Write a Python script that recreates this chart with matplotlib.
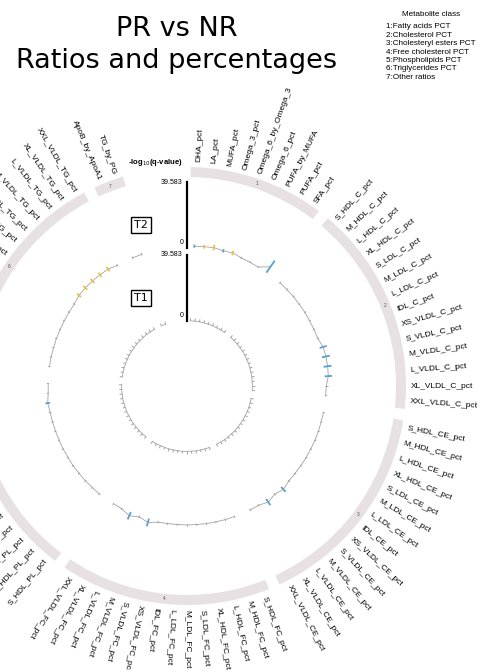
"""Circular -log10(q) plot: PR vs NR, ratios and percentages."""

import matplotlib

matplotlib.use("Agg")
import matplotlib.pyplot as plt
import numpy as np

plt.rcParams["font.family"] = ["Liberation Sans", "DejaVu Sans"]

# ---- data -----------------------------------------------------------------
class_names = [
    "Fatty acids PCT",
    "Cholesterol PCT",
    "Cholesteryl esters PCT",
    "Free cholesterol PCT",
    "Phospholipids PCT",
    "Triglycerides PCT",
    "Other ratios",
]
fatty_acids = ["DHA_pct", "LA_pct", "MUFA_pct", "Omega_3_pct", "Omega_6_by_Omega_3",
               "Omega_6_pct", "PUFA_by_MUFA", "PUFA_pct", "SFA_pct"]
subclasses = ["S_HDL", "M_HDL", "L_HDL", "XL_HDL", "S_LDL", "M_LDL", "L_LDL", "IDL",
              "XS_VLDL", "S_VLDL", "M_VLDL", "L_VLDL", "XL_VLDL", "XXL_VLDL"]
lipids = ["C", "CE", "FC", "PL", "TG"]
other_ratios = ["ApoB_by_ApoA1", "TG_by_PG"]

group_items = [fatty_acids] + [[f"{s}_{lp}_pct" for s in subclasses] for lp in lipids] + [other_ratios]

Q_MAX = 39.583

# outer track (T2): -log10(q), interval half-width, direction (1 up, -1 down, 0 n.s.)
t2_val = [
    [1.2, 1.4, 1.8, 1.2, 1.6, 0.7, 0.5, 0.4, 4.6],
    [0.6, 0.5, 0.6, 0.5, 0.6, 0.5, 0.6, 0.7, 2.2, 2.4, 2.4, 2.2, 0.8, 0.6],
    [0.6, 0.5, 0.6, 0.6, 0.5, 0.6, 0.5, 0.6, 0.7, 2.0, 0.8, 2.2, 0.7, 0.6],
    [0.5, 0.6, 0.5, 0.6, 0.5, 0.6, 0.5, 0.6, 0.7, 2.4, 0.8, 2.4, 0.6, 0.5],
    [0.6, 0.5, 0.6, 0.5, 0.6, 0.5, 0.6, 0.5, 0.6, 0.7, 0.8, 1.4, 0.6, 0.5],
    [0.5, 0.6, 0.5, 0.6, 0.5, 0.6, 0.7, 0.8, 1.8, 2.0, 2.0, 1.9, 1.8, 0.8],
    [0.7, 0.8],
]
t2_err = [
    [0.9, 1.1, 1.7, 1.0, 1.4, 0.7, 0.7, 0.7, 4.4],
    [0.8, 0.8, 0.8, 0.8, 0.8, 0.8, 0.8, 0.8, 2.2, 2.4, 2.4, 2.2, 0.8, 0.8],
    [0.8, 0.8, 0.8, 0.8, 0.8, 0.8, 0.8, 0.8, 0.8, 2.0, 0.8, 2.2, 0.8, 0.8],
    [0.8, 0.8, 0.8, 0.8, 0.8, 0.8, 0.8, 0.8, 0.8, 2.4, 0.8, 2.4, 0.8, 0.8],
    [0.8, 0.8, 0.8, 0.8, 0.8, 0.8, 0.8, 0.8, 0.8, 0.8, 0.8, 1.4, 0.8, 0.8],
    [0.8, 0.8, 0.8, 0.8, 0.8, 0.8, 0.8, 0.8, 1.6, 1.7, 1.7, 1.6, 1.6, 0.8],
    [0.9, 0.9],
]
t2_dir = [
    [-1, 1, 1, -1, 1, 0, 0, 0, -1],
    [0, 0, 0, 0, 0, 0, 0, 0, -1, -1, -1, -1, 0, 0],
    [0, 0, 0, 0, 0, 0, 0, 0, 0, -1, 0, -1, 0, 0],
    [0, 0, 0, 0, 0, 0, 0, 0, 0, -1, 0, -1, 0, 0],
    [0, 0, 0, 0, 0, 0, 0, 0, 0, 0, 0, -1, 0, 0],
    [0, 0, 0, 0, 0, 0, 0, 0, 1, 1, 1, 1, 1, 0],
    [0, 0],
]

# inner track (T1): all non-significant
t1_val = [
    [0.2, 0.2, 0.3, 0.2, 0.2, 0.3, 0.2, 0.2, 0.3],
    [0.2, 0.3, 0.2, 0.2, 0.3, 0.2, 0.2, 0.3, 0.2, 0.2, 0.3, 0.2, 0.2, 0.3],
    [0.2, 0.2, 0.3, 0.2, 0.2, 0.3, 0.2, 0.2, 0.3, 0.2, 0.2, 0.3, 0.2, 0.2],
    [0.3, 0.2, 0.2, 0.3, 0.2, 0.2, 0.3, 0.2, 0.2, 0.3, 0.2, 0.2, 0.3, 0.2],
    [0.2, 0.3, 0.2, 0.2, 0.3, 0.2, 0.2, 0.3, 0.2, 0.2, 0.3, 0.2, 0.2, 0.3],
    [0.2, 0.2, 0.3, 0.2, 0.2, 0.3, 0.2, 0.2, 0.3, 0.2, 0.2, 0.3, 0.2, 0.2],
    [0.3, 0.2],
]
t1_err = [
    [1.5, 1.6, 1.4, 1.6, 1.5, 1.6, 1.4, 1.5, 1.6],
    [1.6, 1.5, 1.6, 1.4, 1.5, 1.6, 1.5, 1.4, 1.6, 1.5, 1.6, 1.4, 1.5, 1.6],
    [1.5, 1.6, 1.4, 1.5, 1.6, 1.5, 1.4, 1.6, 1.5, 1.6, 1.4, 1.5, 1.6, 1.5],
    [1.6, 1.5, 1.4, 1.6, 1.5, 1.6, 1.4, 1.5, 1.6, 1.5, 1.4, 1.6, 1.5, 1.6],
    [1.4, 1.6, 1.5, 1.6, 1.4, 1.5, 1.6, 1.5, 1.4, 1.6, 1.5, 1.6, 1.4, 1.5],
    [1.5, 1.4, 1.6, 1.5, 1.6, 1.4, 1.5, 1.6, 1.5, 1.4, 1.6, 1.5, 1.6, 1.4],
    [1.5, 1.6],
]

# ---- layout / style ---------------------------------------------------------
W, H = 482, 670
CX, CY, R = 187, 386, 235          # circle centre and axes radius (px)
START, END, GAP = 1.0, 343.0, 3.0  # degrees, clockwise from top
T1 = (65, 131)
T2 = (138, 204)
BAND = (209, 219)
LABEL_R = 224

BAND_COLOR = "#e7e1e3"
GREY = "#a3a3a3"
DIR_COLOR = {0: GREY, 1: "#e5c24a", -1: "#5b9fd0"}


def item_angles():
    n_items = sum(len(g) for g in group_items)
    step = (END - START - GAP * (len(group_items) - 1)) / n_items
    out, pos = [], START
    for g in group_items:
        out.append(pos + step * (np.arange(len(g)) + 0.5))
        pos += step * len(g) + GAP
    return out, step


def to_r(v, track):
    return track[0] + np.asarray(v) / Q_MAX * (track[1] - track[0])


def draw_track(ax, angles, vals, errs, dirs, track, both_sides=True):
    for ang, v, e, d in zip(angles, vals, errs, dirs):
        th = np.deg2rad(ang)
        v = np.asarray(v)
        e = np.asarray(e)
        ax.plot(th, to_r(v, track), color=GREY, lw=0.6, zorder=2)
        lo = np.maximum(v - e, 0) if both_sides else np.zeros_like(v)
        hi = v + e
        for t, a, b, k in zip(th, lo, hi, d):
            lw = 1.3 if k else 0.7
            ax.plot([t, t], [to_r(a, track), to_r(b, track)], color=DIR_COLOR[k],
                    lw=lw, solid_capstyle="butt", zorder=3)


def main():
    fig = plt.figure(figsize=(W / 100, H / 100), dpi=100)
    ax = fig.add_axes([(CX - R) / W, (H - CY - R) / H, 2 * R / W, 2 * R / H],
                      projection="polar")
    ax.set_theta_zero_location("N")
    ax.set_theta_direction(-1)
    ax.set_ylim(0, R)
    ax.axis("off")

    angles, step = item_angles()

    # class band, group numbers and labels
    for gi, (ang, names) in enumerate(zip(angles, group_items)):
        a0 = ang[0] - step / 2
        span = step * len(names)
        ax.bar(np.deg2rad(a0 + span / 2), BAND[1] - BAND[0], width=np.deg2rad(span),
               bottom=BAND[0], color=BAND_COLOR, edgecolor="none", zorder=1)
        ax.text(np.deg2rad(a0 + span / 2), sum(BAND) / 2, str(gi + 1), fontsize=3.5,
                color="#555555", ha="center", va="center")
        outward = gi < 4
        for a, name in zip(ang, names):
            if outward:
                ax.text(np.deg2rad(a), LABEL_R, name, rotation=90 - a,
                        rotation_mode="anchor", ha="left", va="center", fontsize=6)
            else:
                ax.text(np.deg2rad(a), LABEL_R, name, rotation=270 - a,
                        rotation_mode="anchor", ha="right", va="center", fontsize=6)

    draw_track(ax, angles, t2_val, t2_err, t2_dir, T2)
    zero_dir = [[0] * len(g) for g in group_items]
    draw_track(ax, angles, t1_val, t1_err, zero_dir, T1, both_sides=False)

    # y axes at the top
    for track, name in ((T2, "T2"), (T1, "T1")):
        ax.plot([0, 0], track, color="black", lw=1.6, zorder=4)
        ax.annotate(f"{Q_MAX}", xy=(0, track[1]), xytext=(-5, 0), textcoords="offset pixels",
                    ha="right", va="center", fontsize=5)
        ax.annotate("0", xy=(0, track[0]), xytext=(-3, 2), textcoords="offset pixels",
                    ha="right", va="bottom", fontsize=5)
        ax.annotate(name, xy=(0, track[0] + 0.35 * (track[1] - track[0])),
                    xytext=(-46, 0), textcoords="offset pixels", ha="center", va="center",
                    fontsize=8, family="DejaVu Sans",
                    bbox=dict(boxstyle="square,pad=0.3", fc="white", ec="black", lw=1))
    ax.annotate("-log$_{10}$(q-value)", xy=(0, T2[1]), xytext=(-4, 20),
                textcoords="offset pixels", ha="right", va="center",
                fontsize=5.5, fontweight="bold")

    fig.text(177 / W, 1 - 45 / H, "PR vs NR\nRatios and percentages", ha="center",
             va="center", fontsize=19.5, family="DejaVu Sans", linespacing=1.3)

    fig.text(431 / W, 1 - 15 / H, "Metabolite class", ha="center", va="center", fontsize=5.9)
    for i, cname in enumerate(class_names):
        fig.text(386 / W, 1 - (27 + 8.4 * i) / H, f"{i + 1}:{cname}", ha="left",
                 va="center", fontsize=5.9)

    fig.savefig("out.png", dpi=100)
    plt.close(fig)


if __name__ == "__main__":
    main()
